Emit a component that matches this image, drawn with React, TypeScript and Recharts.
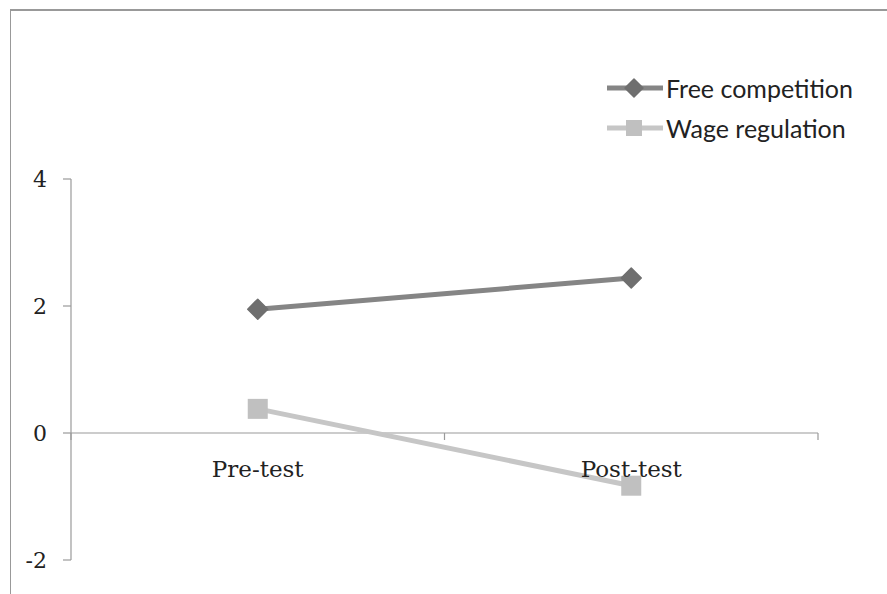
import React from 'react'
import {
  LineChart,
  Line,
  XAxis,
  YAxis,
  ReferenceLine,
  ReferenceDot,
} from 'recharts'

const categories = ['Pre-test', 'Post-test']
const freeCompetition = [1.95, 2.44]
const wageRegulation = [0.38, -0.83]
const yTicks = [-2, 0, 2, 4]

const DARK = '#858585'
const DARK_MARK = '#6f6f6f'
const LIGHT = '#c6c6c6'
const LIGHT_MARK = '#c0c0c0'

const serif = 'DejaVu Serif'
const sans = 'Lato'

const data = categories.map((name, i) => ({
  name,
  free: freeCompetition[i],
  wage: wageRegulation[i],
}))

const Diamond = ({ cx, cy, size = 10, color = DARK_MARK }: any) => {
  if (cx == null || cy == null) return null
  return (
    <polygon
      points={`${cx},${cy - size} ${cx + size},${cy} ${cx},${cy + size} ${cx - size},${cy}`}
      fill={color}
      stroke={color}
      strokeLinejoin="round"
      strokeWidth={1.5}
    />
  )
}

const Square = ({ cx, cy, size = 10, color = LIGHT_MARK }: any) => {
  if (cx == null || cy == null) return null
  return <rect x={cx - size} y={cy - size} width={size * 2} height={size * 2} fill={color} />
}

// zero line with small tick marks at the category band edges
const ZeroAxis = ({ x1, y1, x2, y2 }: any) => {
  const mid = (x1 + x2) / 2
  return (
    <g stroke="#9a9a9a" strokeWidth={1.2}>
      <line x1={x1} y1={y1} x2={x2} y2={y2} />
      <line x1={x1} y1={y1} x2={x1} y2={y1 + 7} />
      <line x1={mid} y1={y1} x2={mid} y2={y1 + 7} />
      <line x1={x2} y1={y1} x2={x2} y2={y1 + 7} />
    </g>
  )
}

const LegendBox = () => (
  <div
    style={{
      position: 'absolute',
      top: 68,
      left: 607,
      fontFamily: sans,
      fontSize: 25,
      color: '#222',
    }}
  >
    <div style={{ display: 'flex', alignItems: 'center', height: 40 }}>
      <svg width={59} height={24}>
        <line x1={0} y1={12} x2={56} y2={12} stroke={DARK} strokeWidth={5} />
        <Diamond cx={27} cy={12} size={9} />
      </svg>
      <span>Free competition</span>
    </div>
    <div style={{ display: 'flex', alignItems: 'center', height: 40 }}>
      <svg width={59} height={24}>
        <line x1={0} y1={12} x2={56} y2={12} stroke={LIGHT} strokeWidth={5} />
        <Square cx={27} cy={12} size={8} />
      </svg>
      <span>Wage regulation</span>
    </div>
  </div>
)

export default function App() {
  return (
    <div
      style={{
        position: 'absolute',
        left: 0,
        top: 0,
        width: 887,
        height: 594,
        background: '#fff',
        overflow: 'hidden',
      }}
    >
      <div
        style={{
          position: 'absolute',
          left: 10,
          top: 9,
          width: 900,
          height: 600,
          borderTop: '2px solid #999',
          borderLeft: '1.5px solid #999',
        }}
      />
      <LineChart
        width={887}
        height={594}
        data={data}
        margin={{ top: 179, right: 69, bottom: 34, left: 11 }}
      >
        <XAxis
          dataKey="name"
          scale="band"
          axisLine={false}
          tickLine={false}
          tick={false}
          height={0}
        />
        <YAxis
          domain={[-2, 4]}
          ticks={yTicks}
          width={60}
          tickSize={8}
          tickMargin={16}
          axisLine={{ stroke: '#9a9a9a', strokeWidth: 1.2 }}
          tickLine={{ stroke: '#9a9a9a', strokeWidth: 1.2 }}
          tick={{ fontFamily: serif, fontSize: 22, fill: '#222' }}
        />
        <ReferenceLine y={0} shape={<ZeroAxis />} />
        {categories.map((c) => (
          <ReferenceDot
            key={c}
            x={c}
            y={0}
            r={1}
            fill="none"
            stroke="none"
            label={{
              value: c,
              position: 'bottom',
              offset: 27,
              fontFamily: serif,
              fontSize: 23,
              fill: '#222',
            }}
          />
        ))}
        <Line
          dataKey="free"
          name="Free competition"
          stroke={DARK}
          strokeWidth={5}
          dot={<Diamond />}
          activeDot={false}
          isAnimationActive={false}
        />
        <Line
          dataKey="wage"
          name="Wage regulation"
          stroke={LIGHT}
          strokeWidth={5}
          dot={<Square />}
          activeDot={false}
          isAnimationActive={false}
        />
      </LineChart>
      <LegendBox />
    </div>
  )
}
